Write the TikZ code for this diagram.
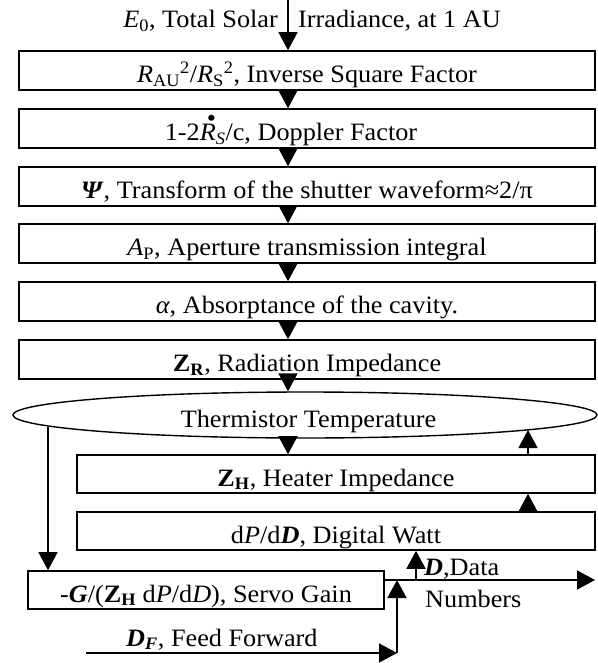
\documentclass[tikz,border=0pt]{standalone}
\usepackage{fontspec}
\setmainfont{Liberation Serif}[FakeStretch=1.05]
\usetikzlibrary{arrows.meta,shapes.geometric}

% R with a large dot above it (time derivative)
\newcommand\rdotted{\makebox[0pt][l]{\hspace{0.28em}\raisebox{0.56em}{•}}\textit{R}}
\newcommand\bfit[1]{\textbf{\textit{#1}}}

\begin{document}
\begin{tikzpicture}[x=1pt,y=-1pt,
  every node/.style={font=\fontsize{25}{29}\selectfont, inner sep=0pt},
  lowtext/.style={text height=24pt, text depth=0pt},
  stagebox/.style={draw, lowtext, line width=1.6pt, minimum height=39pt, minimum width=576pt},
  loopbox/.style={draw, lowtext, line width=1.6pt, minimum height=38pt, minimum width=518pt},
  flow/.style={line width=1.6pt, -{Triangle[width=19pt,length=18pt]}}]
\useasboundingbox (0,0) rectangle (597,663);

% columns used by the vertical connectors
\coordinate (col) at (288,0);
\coordinate (rcol) at (528,0);
\coordinate (lcol) at (48,0);

% incoming irradiance
\node[anchor=base east] (e0a) at (278,28) {\textit{E}\textsubscript{0}, Total Solar};
\node[anchor=base west] (e0b) at (298,28) {Irradiance, at 1 AU};

% forward chain
\node[stagebox] (b1) at (307,70.5) {\textit{R}\textsubscript{AU}\textsuperscript{2}/\textit{R}\textsubscript{S}\textsuperscript{2}, Inverse Square Factor};
\node[stagebox] (b2) at (307,128.5) {\hspace*{-32pt}1-2\rdotted\textsubscript{\textit{S}}/c, Doppler Factor};
\node[stagebox] (b3) at (307,186.5) {\bfit{Ψ}, Transform of the shutter waveform≈2/π};
\node[stagebox] (b4) at (307,243.5) {\textit{A}\textsubscript{P}, Aperture transmission integral};
\node[stagebox] (b5) at (307,301.5) {\textit{α}, Absorptance of the cavity.};
\node[stagebox] (b6) at (307,359.5) {\textbf{Z}\textsubscript{\textbf{R}}, Radiation Impedance};
\node[draw, ellipse, lowtext, line width=1.4pt, minimum width=584pt, minimum height=46pt] (th) at (305,415) {\hspace*{7pt}Thermistor Temperature};

% feedback loop
\node[loopbox] (zh) at (336,474) {\textbf{Z}\textsubscript{\textbf{H}}, Heater Impedance};
\node[loopbox] (dp) at (336,531) {d\textit{P}/d\bfit{D}, Digital Watt};
\node[draw, lowtext, line width=1.6pt, minimum width=356pt, minimum height=38pt] (sv) at (206,590) {-\bfit{G}/(\textbf{Z}\textsubscript{\textbf{H}} d\textit{P}/d\textit{D}), Servo Gain};

\node[anchor=base west] (dlab) at (424,575) {\bfit{D},Data};
\node[anchor=base west] (nlab) at (425,607) {Numbers};
\node[anchor=base west] (dflab) at (126,646) {\bfit{D}\textsubscript{\bfit{F}}, Feed Forward};

% connectors of the forward chain
\draw[flow] (col) -- (col |- b1.north);
\foreach \a/\b in {b1/b2,b2/b3,b3/b4,b4/b5,b5/b6}
  \draw[flow] (col |- \a.south) -- (col |- \b.north);
\draw[flow] (col |- b6.south) -- (col |- th.north);
\draw[flow] (col |- th.south) -- (col |- zh.north);

% connectors of the loop
\coordinate (thr) at (528,430);
\coordinate (thl) at (48,427);
\draw[flow] (rcol |- dp.north) -- (rcol |- zh.south);
\draw[flow] (rcol |- zh.north) -- (thr);
\draw[flow] (thl) -- (lcol |- sv.north);

\coordinate (out) at (595,580);
\coordinate (tap) at (416,580);
\draw[flow] (sv.east |- out) -- (out);
\draw[flow] (tap) -- (tap |- dp.south);

\coordinate (ffs) at (86,653);
\coordinate (ffe) at (397,653);
\draw[flow] (ffs) -- (ffe);
\draw[flow] (ffe) -- (ffe |- out);
\end{tikzpicture}
\end{document}
